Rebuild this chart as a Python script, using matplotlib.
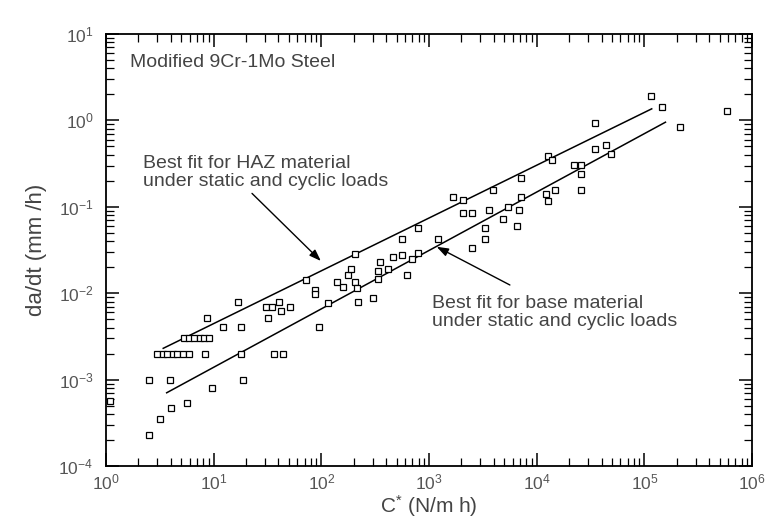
import matplotlib
matplotlib.use("Agg")
import matplotlib.pyplot as plt

plt.rcParams["font.family"] = ["Liberation Sans", "DejaVu Sans"]
plt.rcParams["mathtext.fontset"] = "custom"
plt.rcParams["mathtext.rm"] = "Liberation Sans"
plt.rcParams["mathtext.it"] = "Liberation Sans:italic"
plt.rcParams["mathtext.bf"] = "Liberation Sans:bold"

# Creep crack growth data: C* (N/m h) vs da/dt (mm/h)
c_star = [
    2.5, 3.2, 4.0, 5.6, 1.1, 2.5, 3.9, 18.7, 9.6,
    3.0, 3.4, 3.7, 4.2, 4.6, 5.2, 5.9, 8.3, 17.9, 36, 44,
    5.3, 5.9, 6.6, 7.4, 8.2, 9.1,
    8.6, 12.2, 17.9, 16.9, 30.4, 34.6, 40.4, 42.2, 51, 31.7,
    71.5, 87, 87, 95, 116, 140, 160, 178, 187, 205, 217, 205, 213,
    303, 333, 333, 350, 418, 465, 564, 564, 620, 689, 794, 784,
    1202, 1678, 2078, 2488, 2078, 2488, 3303, 3303, 3624, 3946,
    4887, 6506, 5404, 6838, 7130, 7130,
    12100, 12790, 14660, 12790, 13930, 22150, 25880, 25880, 25880,
    34700, 34700, 44200, 48600, 114900, 146300, 213600, 587000,
]
da_dt = [
    2.3e-4, 3.5e-4, 4.7e-4, 5.3e-4, 5.6e-4, 1.0e-3, 1.0e-3, 1.0e-3, 8.0e-4,
    2.0e-3, 2.0e-3, 2.0e-3, 2.0e-3, 2.0e-3, 2.0e-3, 2.0e-3, 2.0e-3, 2.0e-3, 2.0e-3, 2.0e-3,
    3.0e-3, 3.0e-3, 3.0e-3, 3.0e-3, 3.0e-3, 3.0e-3,
    5.1e-3, 4.1e-3, 4.1e-3, 7.9e-3, 7.0e-3, 7.0e-3, 7.9e-3, 6.2e-3, 7.0e-3, 5.2e-3,
    1.42e-2, 1.09e-2, 9.7e-3, 4.1e-3, 7.8e-3, 1.36e-2, 1.19e-2, 1.62e-2, 1.9e-2, 1.36e-2, 8.0e-3, 2.84e-2, 1.14e-2,
    8.9e-3, 1.81e-2, 1.45e-2, 2.32e-2, 1.9e-2, 2.6e-2, 2.77e-2, 4.2e-2, 1.62e-2, 2.47e-2, 2.94e-2, 5.63e-2,
    4.2e-2, 0.131, 0.0855, 0.0855, 0.12, 0.0331, 0.0563, 0.042, 0.0918, 0.156,
    0.0723, 0.0604, 0.10, 0.0918, 0.214, 0.131,
    0.14, 0.117, 0.156, 0.387, 0.345, 0.305, 0.305, 0.238, 0.156,
    0.94, 0.464, 0.519, 0.406, 1.93, 1.43, 0.84, 1.27,
]

# Power-law best fits da/dt = A * C*^n
haz_fit = {"A": 1.09e-3, "n": 0.611, "x_range": [3.4, 1.17e5]}
base_fit = {"A": 2.93e-4, "n": 0.676, "x_range": [3.66, 1.57e5]}

x_ticks = [1e0, 1e1, 1e2, 1e3, 1e4, 1e5, 1e6]
y_ticks = [1e-4, 1e-3, 1e-2, 1e-1, 1e0, 1e1]

fig = plt.figure(figsize=(7.67, 5.2), dpi=100)
ax = fig.add_axes([0.1382, 0.1038, 0.8423, 0.8308])

ax.plot(c_star, da_dt, linestyle="none", marker="s", markersize=5,
        markerfacecolor="white", markeredgecolor="black", markeredgewidth=0.9,
        zorder=3)

for fit in (haz_fit, base_fit):
    xs = fit["x_range"]
    ys = [fit["A"] * x ** fit["n"] for x in xs]
    ax.plot(xs, ys, color="black", linewidth=1.1, zorder=2)

ax.set_xscale("log")
ax.set_yscale("log")
ax.set_xlim(1e0, 1e6)
ax.set_ylim(1e-4, 1e1)
ax.set_xticks(x_ticks)
ax.set_yticks(y_ticks)

for side in ax.spines.values():
    side.set_linewidth(1.3)

ax.tick_params(which="both", direction="in", top=True, right=True, colors="black",
               labelcolor="#555555", labelsize=12.5)
ax.tick_params(which="major", length=9.5, width=1.1)
ax.tick_params(which="minor", length=5.5, width=0.9)
ax.tick_params(axis="x", which="major", pad=5)
ax.tick_params(axis="y", which="major", pad=9)

ax.set_xlabel(r"C$^{*}$ (N/m h)", fontsize=15, color="#444444", labelpad=0)
ax.set_ylabel("da/dt (mm /h)", fontsize=16, color="#444444", labelpad=8)

text_color = "#444444"
ax.text(0.037, 0.933, "Modified 9Cr-1Mo Steel", transform=ax.transAxes,
        fontsize=14, color=text_color, va="center", ha="left")
ax.text(0.057, 0.679, "Best fit for HAZ material\nunder static and cyclic loads",
        transform=ax.transAxes, fontsize=14, color=text_color, va="center",
        ha="left", linespacing=1.1)
ax.text(0.505, 0.356, "Best fit for base material\nunder static and cyclic loads",
        transform=ax.transAxes, fontsize=14, color=text_color, va="center",
        ha="left", linespacing=1.1)

arrow_style = dict(arrowstyle="-|>,head_length=0.7,head_width=0.25",
                   color="black", lw=1.0, shrinkA=0, shrinkB=0)
ax.annotate("", xy=(99, 0.0236), xytext=(22.7, 0.143), arrowprops=arrow_style)
ax.annotate("", xy=(1177, 0.0345), xytext=(5637, 0.01245), arrowprops=arrow_style)

fig.savefig("out.png", dpi=100)
